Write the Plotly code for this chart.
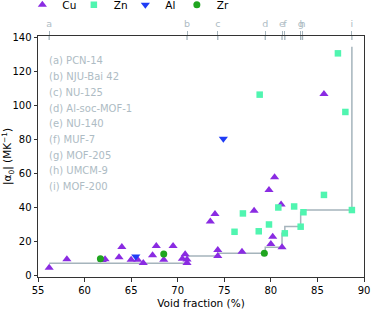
import plotly.graph_objects as go

# ---- data ----
cu_x = [56.2, 58.1, 61.9, 62.2, 63.7, 64.0, 65.0, 65.7, 66.3, 67.3, 67.7, 68.5, 69.5,
        70.5, 70.8, 71.0, 71.0, 73.5, 74.0, 74.3, 74.3, 76.9, 78.2, 79.8, 80.4, 81.1,
        80.2, 80.0, 81.2, 85.7]
cu_y = [4.6, 9.6, 9.2, 9.6, 10.8, 16.9, 9.4, 9.4, 7.4, 12.0, 17.5, 9.4, 17.5,
        10.0, 12.6, 7.5, 9.5, 31.8, 36.3, 15.1, 11.6, 14.1, 38.2, 50.4, 57.9, 41.8,
        22.9, 18.6, 16.7, 106.9]

zn_x = [76.1, 77.0, 78.7, 78.8, 79.8, 80.8, 81.5, 82.5, 83.2, 83.5, 85.7, 87.2, 88.0, 88.7]
zn_y = [25.8, 36.6, 26.1, 106.5, 30.1, 40.1, 24.9, 40.7, 28.8, 37.3, 47.5, 130.8, 96.3, 38.6]

al_x = [65.5, 74.9]
al_y = [11.2, 80.6]

zr_x = [61.7, 68.5, 79.3]
zr_y = [10.0, 12.7, 13.2]

mof_letters = ["a", "b", "c", "d", "e", "f", "g", "h", "i"]
mof_names = ["PCN-14", "NJU-Bai 42", "NU-125", "Al-soc-MOF-1", "NU-140",
             "MUF-7", "MOF-205", "UMCM-9", "MOF-200"]
mof_void = [56.2, 71.0, 74.3, 79.4, 81.2, 81.5, 83.2, 83.4, 88.7]
step_y = [7.3, 11.6, 13.2, 16.7, 24.9, 28.9, 37.3, 38.6, 134.7]

x_ticks = [55, 60, 65, 70, 75, 80, 85, 90]
y_ticks = [0, 20, 40, 60, 80, 100, 120, 140]

# ---- style ----
FONT = "DejaVu Sans"
GREY_TXT = "#aebcc4"
GREY_LINE = "#a5b4bc"
AX = "#333333"
PW, PH = 326, 241   # plot area size in px

fig = go.Figure()

fig.add_trace(go.Scatter(x=mof_void, y=step_y, mode="lines", line_shape="hv",
                         line=dict(color=GREY_LINE, width=1.5), showlegend=False,
                         hoverinfo="skip"))

fig.add_trace(go.Scatter(x=cu_x, y=cu_y, mode="markers", name="Cu",
                         marker=dict(symbol="triangle-up", size=8, color="#8a2be2",
                                     line=dict(width=0))))
fig.add_trace(go.Scatter(x=zn_x, y=zn_y, mode="markers", name="Zn",
                         marker=dict(symbol="square", size=6.5, color="#50f5b0",
                                     line=dict(width=0))))
fig.add_trace(go.Scatter(x=al_x, y=al_y, mode="markers", name="Al",
                         marker=dict(symbol="triangle-down", size=8, color="#1f3cf5",
                                     line=dict(width=0))))
fig.add_trace(go.Scatter(x=zr_x, y=zr_y, mode="markers", name="Zr",
                         marker=dict(symbol="circle", size=7, color="#1fa51f",
                                     line=dict(width=0))))
# spacer entry so the last legend label is not clipped
fig.add_trace(go.Scatter(x=[None], y=[None], mode="markers", name=" ",
                         marker=dict(color="rgba(0,0,0,0)", size=1), hoverinfo="skip"))

# invisible trace on the top axis
fig.add_trace(go.Scatter(x=mof_void, y=step_y, xaxis="x2", mode="markers",
                         marker=dict(opacity=0), showlegend=False, hoverinfo="skip"))

# inside part of top ticks
for v in mof_void:
    fig.add_shape(type="line", xref="x", yref="paper", x0=v, x1=v, y0=1, y1=1 - 4 / PH,
                  line=dict(color=GREY_LINE, width=1.3))

# MOF name list
for i, (l, n) in enumerate(zip(mof_letters, mof_names)):
    fig.add_annotation(xref="paper", yref="paper", x=8.5 / PW,
                       y=1 - (25 + i * 15.7) / PH, xanchor="left", yanchor="middle",
                       text=f"({l}) {n}", showarrow=False,
                       font=dict(family=FONT, size=10, color=GREY_TXT))

fig.update_layout(
    width=371, height=309,
    margin=dict(l=38, r=7, t=36, b=32, autoexpand=False),
    paper_bgcolor="white", plot_bgcolor="white",
    font=dict(family=FONT, size=10, color="black"),
    showlegend=True,
    legend=dict(orientation="h", x=-0.048, xanchor="left", y=1.13, yanchor="middle",
                entrywidth=6.5, entrywidthmode="pixels", itemwidth=30,
                font=dict(family=FONT, size=10.5, color="black"),
                bgcolor="rgba(0,0,0,0)", tracegroupgap=0),
    xaxis=dict(range=[55, 90], tickvals=x_ticks, ticks="outside", ticklen=3.5,
               tickcolor=AX, showline=True, linecolor=AX, linewidth=1, mirror=True,
               showgrid=False, zeroline=False, automargin=False,
               title=dict(text="Void fraction (%)", font=dict(family=FONT, size=10.5),
                          standoff=8),
               tickfont=dict(family=FONT, size=10)),
    xaxis2=dict(range=[55, 90], overlaying="x", side="top", tickvals=mof_void,
                ticktext=mof_letters, ticks="outside", ticklen=4, tickcolor=GREY_LINE,
                tickwidth=1.3, tickangle=0, showline=False, showgrid=False,
                zeroline=False, automargin=False,
                tickfont=dict(family=FONT, size=9.5, color=GREY_TXT)),
    yaxis=dict(range=[-0.8, 141], tickvals=y_ticks, ticks="outside", ticklen=3.5,
               tickcolor=AX, showline=True, linecolor=AX, linewidth=1, mirror=True,
               showgrid=False, zeroline=False, automargin=False,
               title=dict(text="|α<sub>0</sub>| (MK<sup>−1</sup>)",
                          font=dict(family=FONT, size=10.5), standoff=0),
               tickfont=dict(family=FONT, size=10)),
)

fig.write_html("out.html", config={"displayModeBar": False},
               post_script="document.body.style.margin='0';document.body.style.overflow='hidden';")
